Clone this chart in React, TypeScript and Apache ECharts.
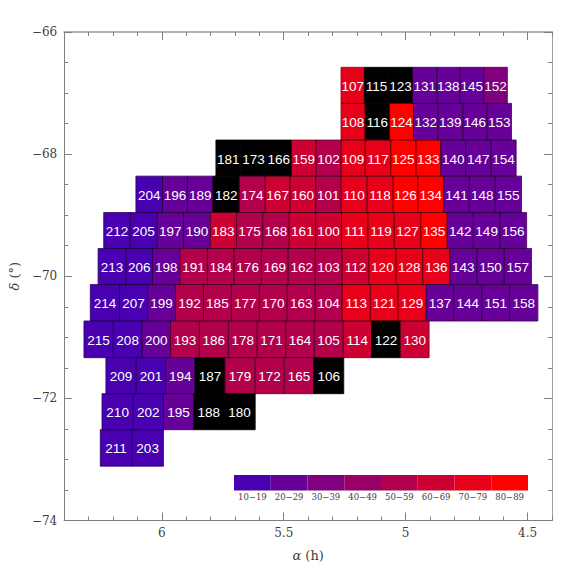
import React, { useEffect, useRef } from "react";
import * as echarts from "echarts";

// Field numbers, row by row from the top, left to right
const rowIds = [
  [107, 115, 123, 131, 138, 145, 152],
  [108, 116, 124, 132, 139, 146, 153],
  [181, 173, 166, 159, 102, 109, 117, 125, 133, 140, 147, 154],
  [204, 196, 189, 182, 174, 167, 160, 101, 110, 118, 126, 134, 141, 148, 155],
  [212, 205, 197, 190, 183, 175, 168, 161, 100, 111, 119, 127, 135, 142, 149, 156],
  [213, 206, 198, 191, 184, 176, 169, 162, 103, 112, 120, 128, 136, 143, 150, 157],
  [214, 207, 199, 192, 185, 177, 170, 163, 104, 113, 121, 129, 137, 144, 151, 158],
  [215, 208, 200, 193, 186, 178, 171, 164, 105, 114, 122, 130],
  [209, 201, 194, 187, 179, 172, 165, 106],
  [210, 202, 195, 188, 180],
  [211, 203],
];

// Value class of every field (0 = no data, drawn black)
const rowValues = [
  [75, 0, 0, 25, 25, 25, 35],
  [75, 0, 85, 25, 25, 25, 25],
  [0, 0, 0, 65, 55, 75, 75, 85, 85, 25, 25, 25],
  [15, 25, 25, 0, 55, 65, 65, 55, 75, 75, 85, 85, 25, 25, 25],
  [15, 15, 25, 25, 65, 55, 55, 65, 65, 75, 75, 75, 85, 25, 25, 25],
  [15, 15, 25, 55, 55, 55, 55, 55, 55, 65, 75, 75, 75, 25, 25, 25],
  [15, 15, 25, 55, 55, 55, 55, 55, 55, 75, 75, 75, 25, 25, 25, 25],
  [15, 15, 25, 55, 55, 55, 55, 55, 55, 65, 0, 65],
  [15, 15, 25, 0, 55, 55, 55, 0],
  [15, 15, 25, 0, 0],
  [15, 15],
];

// Right ascension (h) of the field edges in each row
const rowEdges = [
  [5.265, 5.169, 5.07, 4.972, 4.872, 4.778, 4.68, 4.583],
  [5.265, 5.166, 5.066, 4.968, 4.868, 4.766, 4.667, 4.566],
  [5.778, 5.676, 5.572, 5.468, 5.368, 5.265, 5.166, 5.061, 4.958, 4.856, 4.754, 4.65, 4.547],
  [6.106, 5.997, 5.895, 5.79, 5.682, 5.576, 5.474, 5.369, 5.265, 5.159, 5.052, 4.95, 4.844, 4.739, 4.633, 4.525],
  [6.238, 6.13, 6.019, 5.911, 5.801, 5.694, 5.586, 5.478, 5.369, 5.263, 5.155, 5.047, 4.938, 4.83, 4.723, 4.613, 4.504],
  [6.261, 6.147, 6.038, 5.926, 5.813, 5.704, 5.592, 5.482, 5.371, 5.261, 5.151, 5.04, 4.93, 4.819, 4.708, 4.596, 4.484],
  [6.293, 6.173, 6.058, 5.944, 5.829, 5.715, 5.6, 5.486, 5.371, 5.261, 5.145, 5.032, 4.916, 4.803, 4.688, 4.574, 4.458],
  [6.319, 6.199, 6.081, 5.964, 5.846, 5.727, 5.609, 5.492, 5.375, 5.257, 5.14, 5.022, 4.904],
  [6.229, 6.105, 5.984, 5.864, 5.741, 5.618, 5.498, 5.377, 5.254],
  [6.245, 6.117, 5.993, 5.869, 5.745, 5.617],
  [6.252, 6.123, 5.993],
];

// Declination (deg) of the row edges
const deltaEdges = [-66.579, -67.169, -67.77, -68.361, -68.956, -69.546, -70.136, -70.733, -71.333, -71.923, -72.513, -73.11];

const classLabels = ["10−19", "20−29", "30−39", "40−49", "50−59", "60−69", "70−79", "80−89"];
const classColors = ["#4800b0", "#660099", "#800080", "#990066", "#b3004d", "#cc0033", "#e6001a", "#ff0000"];

const xMajor = [4.5, 5, 5.5, 6];
const xMinor = [4.4, 4.6, 4.7, 4.8, 4.9, 5.1, 5.2, 5.3, 5.4, 5.6, 5.7, 5.8, 5.9, 6.1, 6.2, 6.3, 6.4];
const yMajor = [-74, -72, -70, -68, -66];
const yMinor = [-73.5, -73, -72.5, -71.5, -71, -70.5, -69.5, -69, -68.5, -67.5, -67, -66.5];

const AXIS = "#808080";
const AXIS_LIGHT = "#b0b0b0";
const TEXT = "#404040";
const SERIF = "DejaVu Serif";

const colorOf = (v: number) => (v === 0 ? "#000000" : classColors[Math.floor(v / 10) - 1]);

const cells: number[][] = [];
rowIds.forEach((ids, r) => {
  ids.forEach((id, c) => {
    cells.push([rowEdges[r][c], rowEdges[r][c + 1], deltaEdges[r], deltaEdges[r + 1], rowValues[r][c], id]);
  });
});

const xAxis = (position: string, values: number[], length: number, extra: any = {}) => {
  const color = position === "top" ? AXIS_LIGHT : AXIS;
  return {
    type: "value",
    position,
    inverse: true,
    min: 4.4,
    max: 6.4,
    splitLine: { show: false },
    axisLine: { show: true, onZero: false, lineStyle: { color, width: position === "top" ? 1.5 : 1 } },
    axisTick: { show: true, inside: true, length, customValues: values, lineStyle: { color: AXIS, width: 1 } },
    axisLabel: { show: false },
    ...extra,
  };
};

const yAxis = (position: string, values: number[], length: number, extra: any = {}) => {
  const color = position === "right" ? "#a0a0a0" : AXIS;
  return {
    type: "value",
    position,
    min: -74,
    max: -66,
    splitLine: { show: false },
    axisLine: { show: true, onZero: false, lineStyle: { color, width: 1 } },
    axisTick: { show: true, inside: true, length, customValues: values, lineStyle: { color: AXIS, width: 1 } },
    axisLabel: { show: false },
    ...extra,
  };
};

const titleStyle = {
  color: TEXT,
  fontFamily: SERIF,
  fontSize: 13,
  rich: { g: { color: TEXT, fontFamily: SERIF, fontSize: 13, fontStyle: "italic" }, t: { color: TEXT, fontFamily: SERIF, fontSize: 13 } },
};

export default function App() {
  const ref = useRef<HTMLDivElement>(null);
  useEffect(() => {
    const chart = echarts.init(ref.current!, null, { renderer: "svg" });
    const tileW = 36.75;
    chart.setOption({
      animation: false,
      backgroundColor: "#ffffff",
      grid: { left: 63, top: 32, width: 489, height: 488.5 },
      xAxis: [
        xAxis("bottom", xMajor, 8, {
          axisLabel: {
            show: true,
            customValues: xMajor,
            margin: 6,
            color: TEXT,
            fontFamily: SERIF,
            fontSize: 12,
            formatter: (v: number) => String(v),
          },
          name: "{g|α} {t|(h)}",
          nameLocation: "middle",
          nameGap: 28,
          nameTextStyle: titleStyle,
        }),
        xAxis("bottom", xMinor, 4),
        xAxis("top", xMajor, 8),
        xAxis("top", xMinor, 4),
      ],
      yAxis: [
        yAxis("left", yMajor, 8, {
          axisLabel: {
            show: true,
            customValues: yMajor,
            margin: 7,
            color: TEXT,
            fontFamily: SERIF,
            fontSize: 12,
            formatter: (v: number) => String(v).replace("-", "−"),
          },
          name: "{g|δ} {t|(°)}",
          nameLocation: "middle",
          nameGap: 42,
          nameRotate: 90,
          nameTextStyle: titleStyle,
        }),
        yAxis("left", yMinor, 4),
        yAxis("right", yMajor, 8),
        yAxis("right", yMinor, 4),
      ],
      series: [
        {
          type: "custom",
          xAxisIndex: 0,
          yAxisIndex: 0,
          clip: false,
          silent: true,
          encode: { x: [0, 1], y: [2, 3] },
          data: cells,
          renderItem: (_: any, api: any) => {
            const p0 = api.coord([api.value(0), api.value(2)]);
            const p1 = api.coord([api.value(1), api.value(3)]);
            const fill = colorOf(api.value(4));
            const shape = { x: p0[0], y: p0[1], width: p1[0] - p0[0], height: p1[1] - p0[1] };
            return {
              type: "group",
              children: [
                { type: "rect", shape, style: { fill, stroke: fill, lineWidth: 0.6 } },
                { type: "rect", shape, z2: 1, style: { fill: "none", stroke: "#000000", strokeOpacity: 0.45, lineWidth: 0.8 } },
                {
                  type: "text",
                  z2: 10,
                  style: {
                    x: (p0[0] + p1[0]) / 2,
                    y: (p0[1] + p1[1]) / 2 + 1,
                    text: String(api.value(5)),
                    fill: "#ffffff",
                    fontFamily: "Liberation Sans",
                    fontSize: 13.5,
                    fontWeight: "normal",
                    textAlign: "center",
                    textVerticalAlign: "middle",
                  },
                },
              ],
            };
          },
        },
      ],
      graphic: classLabels.flatMap((label, i) => [
        {
          type: "rect",
          silent: true,
          shape: { x: 234 + i * tileW, y: 475, width: tileW, height: 15.5 },
          style: { fill: classColors[i] },
        },
        {
          type: "text",
          silent: true,
          style: {
            x: 234 + (i + 0.5) * tileW,
            y: 497,
            text: label,
            fill: TEXT,
            fontFamily: SERIF,
            fontSize: 8.5,
            textAlign: "center",
            textVerticalAlign: "middle",
          },
        },
      ]),
    });
    return () => chart.dispose();
  }, []);
  return <div ref={ref} style={{ position: "fixed", left: 0, top: 0, width: 583, height: 583 }} />;
}
